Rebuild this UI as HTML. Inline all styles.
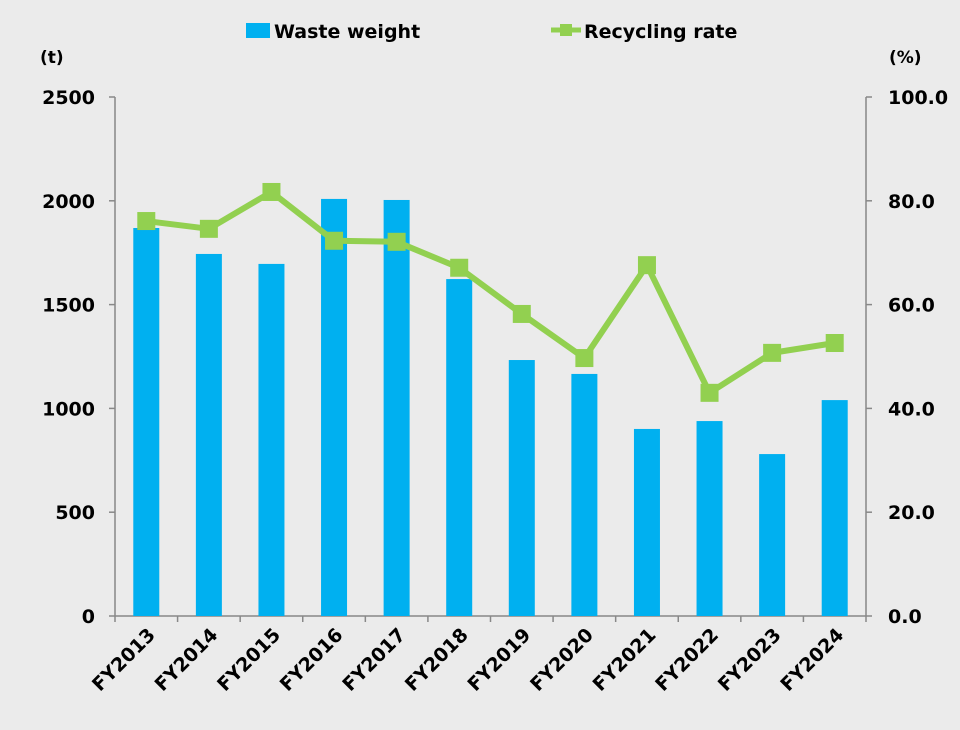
<!DOCTYPE html>
<html><head><meta charset="utf-8"><style>
html,body{margin:0;padding:0;background:#ebebeb;}
svg{display:block;font-family:"DejaVu Sans","Liberation Sans",Verdana,sans-serif;font-weight:bold;}
</style></head><body>
<svg id="chart" width="960" height="730" viewBox="0 0 960 730">
<rect width="960" height="730" fill="#ebebeb"/>
<g>
<g>
<rect x="246" y="23" width="24" height="15" fill="#00b0f0"/>
<text x="274" y="38" font-size="19" fill="#000">Waste weight</text></g>
<g>
<line x1="551" y1="30" x2="581" y2="30" stroke="#92d050" stroke-width="5"/>
<rect x="560" y="24" width="12" height="12" fill="#92d050"/>
<text x="584" y="38" font-size="19" fill="#000">Recycling rate</text></g>
</g>
<text x="40" y="63" font-size="17">(t)</text>
<text x="889" y="63" font-size="17">(%)</text>
<g id="axes"></g>
<g id="bars"></g>
<g id="line"></g>
</svg>
<script>
const categories=["FY2013","FY2014","FY2015","FY2016","FY2017","FY2018","FY2019","FY2020","FY2021","FY2022","FY2023","FY2024"];
const wasteWeight=[1869,1744,1696,2009,2004,1623,1233,1166,901,939,780,1040];
const recyclingRate=[76.1,74.6,81.7,72.3,72.1,67.1,58.2,49.7,67.6,43.0,50.7,52.6];
const leftTicks=[0,500,1000,1500,2000,2500];
const rightTicks=["0.0","20.0","40.0","60.0","80.0","100.0"];
const NS="http://www.w3.org/2000/svg";
const X0=115,X1=866,Y0=616,Y1=97;
const bw=(X1-X0)/categories.length;
const xc=i=>X0+bw*(i+0.5);
const yL=v=>Y0-(v/2500)*(Y0-Y1);
const yR=v=>Y0-(v/100)*(Y0-Y1);
function mk(tag,attrs,parent){const e=document.createElementNS(NS,tag);for(const k in attrs)e.setAttribute(k,attrs[k]);parent.appendChild(e);return e;}
const axes=document.getElementById('axes');
let l=mk('line',{x1:X0,y1:Y1,x2:X0,y2:Y0,stroke:'#888','stroke-width':1.5},axes);


l=mk('line',{x1:X1,y1:Y1,x2:X1,y2:Y0,stroke:'#888','stroke-width':1.5},axes);


l=mk('line',{x1:X0,y1:Y0,x2:X1,y2:Y0,stroke:'#888','stroke-width':1.5},axes);


leftTicks.forEach((v,i)=>{
 const y=yL(v);
 mk('line',{x1:X0-6,y1:y,x2:X0,y2:y,stroke:'#888','stroke-width':1.5},axes);
 mk('line',{x1:X1,y1:y,x2:X1+6,y2:y,stroke:'#888','stroke-width':1.5},axes);
 const t=mk('text',{x:X0-20,y:y+7,'text-anchor':'end','font-size':19},axes);t.textContent=v;
 
 
 const r=mk('text',{x:X1+22,y:yR(i*20)+7,'font-size':19},axes);r.textContent=rightTicks[i];
 
 
});
for(let i=0;i<=categories.length;i++){mk('line',{x1:X0+bw*i,y1:Y0,x2:X0+bw*i,y2:Y0+6,stroke:'#888','stroke-width':1.5},axes);}
categories.forEach((c,i)=>{
 const x=xc(i)+10,y=Y0+20;
 const t=mk('text',{x:x,y:y,'text-anchor':'end','font-size':19,transform:`rotate(-45 ${x} ${y})`},axes);t.textContent=c;
 
 
});
const bars=document.getElementById('bars');
wasteWeight.forEach((v,i)=>{
 const r=mk('rect',{x:xc(i)-13,y:yL(v),width:26,height:Y0-yL(v),fill:'#00b0f0'},bars);
 
 
});
const lg=document.getElementById('line');
const p=mk('polyline',{points:recyclingRate.map((v,i)=>xc(i)+','+yR(v)).join(' '),fill:'none',stroke:'#92d050','stroke-width':6,'stroke-linejoin':'round'},lg);


recyclingRate.forEach((v,i)=>{
 const m=mk('rect',{x:xc(i)-9,y:yR(v)-9,width:18,height:18,fill:'#92d050'},lg);
 
 
});
</script>
</body></html>
